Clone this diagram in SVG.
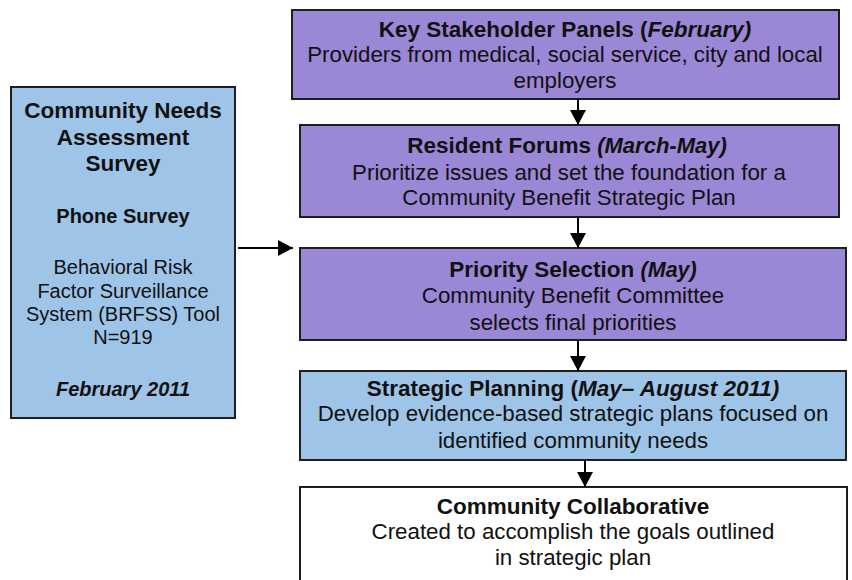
<svg xmlns="http://www.w3.org/2000/svg" width="852" height="580" viewBox="0 0 852 580">
<style>
text{font-family:"Liberation Sans",Arial,sans-serif;fill:#111;text-anchor:middle}
.t{font-weight:bold;font-size:22.5px}
.b{font-size:22.3px}
.bi{font-weight:bold;font-style:italic}
.s{font-size:20px}
.p{fill:#9A87D5;stroke:#1e1e1e;stroke-width:2}
.l{fill:#9EC4E8;stroke:#1e1e1e;stroke-width:2}
.w{fill:#fff;stroke:#1e1e1e;stroke-width:2}
.c{stroke:#000;stroke-width:2;fill:none;marker-end:url(#ah)}
</style>
<defs>
<marker id="ah" markerUnits="userSpaceOnUse" markerWidth="15" markerHeight="16" refX="15" refY="8" orient="auto">
<path d="M0,0 L15,8 L0,16 z" fill="#000"/>
</marker>
</defs>
<rect width="852" height="580" fill="#fff"/>
<g id="survey">
<rect class="l" x="11" y="87" width="224" height="331"/>
<text class="t" x="123" y="118" font-size="23">Community Needs</text>
<text class="t" x="123" y="145" font-size="23">Assessment</text>
<text class="t" x="123" y="171" font-size="23">Survey</text>
<text class="s" x="123" y="223" font-weight="bold">Phone Survey</text>
<text class="s" x="123" y="274">Behavioral Risk</text>
<text class="s" x="123" y="298">Factor Surveillance</text>
<text class="s" x="123" y="321">System (BRFSS) Tool</text>
<text class="s" x="123" y="344">N=919</text>
<text class="s bi" x="123" y="396">February 2011</text>
</g>
<g id="panels">
<rect class="p" x="292" y="10" width="547" height="89"/>
<text class="t" x="565" y="37">Key Stakeholder Panels (<tspan font-style="italic">February)</tspan></text>
<text class="b" x="565" y="62">Providers from medical, social service, city and local</text>
<text class="b" x="565" y="88">employers</text>
</g>
<g id="forums">
<rect class="p" x="300" y="125" width="539" height="92"/>
<text class="t" x="567" y="153" font-size="25">Resident Forums <tspan font-style="italic" font-size="22">(March-May)</tspan></text>
<text class="b" x="569" y="180">Prioritize issues and set the foundation for a</text>
<text class="b" x="569" y="205">Community Benefit Strategic Plan</text>
</g>
<g id="priority">
<rect class="p" x="300" y="248" width="546" height="92"/>
<text class="t" x="573" y="277" font-size="25.5">Priority Selection <tspan font-style="italic" font-size="21.5">(May)</tspan></text>
<text class="b" x="573" y="303">Community Benefit Committee</text>
<text class="b" x="573" y="330">selects final priorities</text>
</g>
<g id="planning">
<rect class="l" x="300" y="371" width="546" height="89"/>
<text class="t" x="573" y="396">Strategic Planning (<tspan font-style="italic">May– August 2011)</tspan></text>
<text class="b" x="573" y="421">Develop evidence-based strategic plans focused on</text>
<text class="b" x="573" y="448">identified community needs</text>
</g>
<g id="collaborative">
<rect class="w" x="300" y="487" width="547" height="100"/>
<text class="t" x="573" y="514">Community Collaborative</text>
<text class="b" x="573" y="539">Created to accomplish the goals outlined</text>
<text class="b" x="573" y="565">in strategic plan</text>
</g>
<g id="connectors">
<line class="c" x1="238" y1="248" x2="293" y2="248"/>
<line class="c" x1="578" y1="99" x2="578" y2="125"/>
<line class="c" x1="578" y1="217" x2="578" y2="248"/>
<line class="c" x1="578" y1="340" x2="578" y2="371"/>
<line class="c" x1="585" y1="460" x2="585" y2="487"/>
</g>
</svg>
